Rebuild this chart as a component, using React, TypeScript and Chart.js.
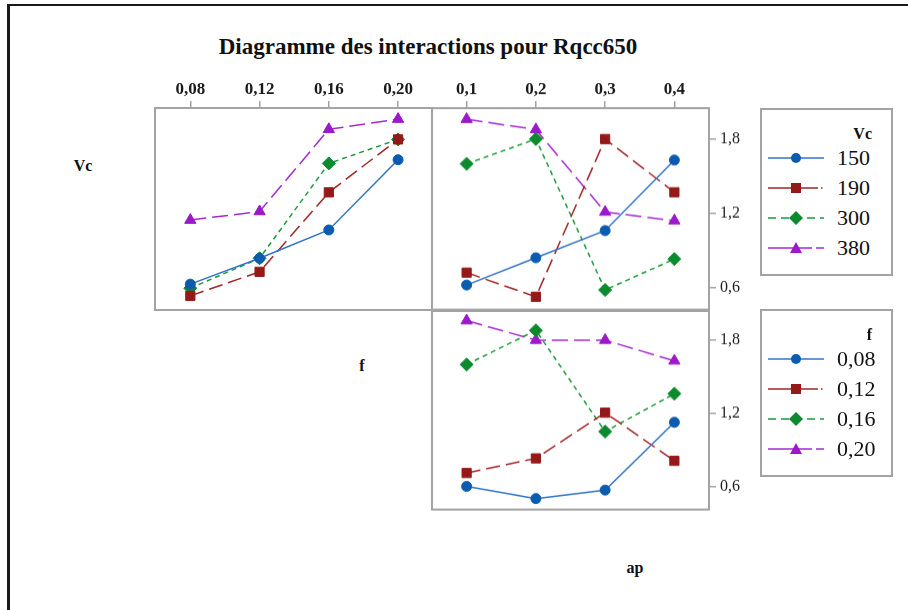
import React, { useEffect, useRef } from 'react';
import { Chart, registerables } from 'chart.js';
Chart.register(...registerables);

// ---------- data ----------
const fLevels = [0.08, 0.12, 0.16, 0.2];
const apLevels = [0.1, 0.2, 0.3, 0.4];
const vcNames = ['150', '190', '300', '380'];
const fNames = ['0,08', '0,12', '0,16', '0,20'];
const yTicks = [0.6, 1.2, 1.8];

// Vc x f (top-left)
const vc150ByF = [0.62, 0.83, 1.06, 1.63];
const vc190ByF = [0.525, 0.72, 1.365, 1.795];
const vc300ByF = [0.587, 0.83, 1.6, 1.795];
const vc380ByF = [1.14, 1.21, 1.877, 1.96];
// Vc x ap (top-right)
const vc150ByAp = [0.62, 0.84, 1.06, 1.63];
const vc190ByAp = [0.72, 0.525, 1.8, 1.37];
const vc300ByAp = [1.6, 1.8, 0.58, 0.83];
const vc380ByAp = [1.96, 1.877, 1.21, 1.14];
// f x ap (bottom-right)
const f008ByAp = [0.6, 0.5, 0.57, 1.126];
const f012ByAp = [0.71, 0.83, 1.205, 0.81];
const f016ByAp = [1.6, 1.88, 1.05, 1.36];
const f020ByAp = [1.96, 1.8, 1.8, 1.63];

// ---------- styles ----------
const SERIF = "'Liberation Serif', 'Times New Roman', serif";
const COLORS = ['#0b5cb0', '#951919', '#0c8a2e', '#9c18c8'];
const LINE_COLORS = ['#2f74c8', '#a32525', '#1a9a3a', '#a52ad0'];
const DASHES: number[][] = [[], [14, 6], [5, 4], [16, 6]];
const POINT_STYLES = ['circle', 'rect', 'rectRot', 'triangle'];
const POINT_RADII = [5, 6.5, 6.5, 6.5];
const GRAY = '#a3a3a3';

const boxPlugin = {
  id: 'panelBox',
  beforeDatasetsDraw(chart: any) {
    const { ctx, chartArea } = chart;
    ctx.save();
    ctx.strokeStyle = GRAY;
    ctx.lineWidth = 2;
    ctx.strokeRect(chartArea.left, chartArea.top, chartArea.right - chartArea.left, chartArea.bottom - chartArea.top);
    ctx.restore();
  },
};

type PanelProps = {
  areaLeft: number; areaTop: number; areaW: number; areaH: number;
  xLevels: number[]; xMin: number; xMax: number; xDigits: number;
  series: number[][]; showX: boolean; showY: boolean;
};

function Panel(p: PanelProps) {
  const ref = useRef<HTMLCanvasElement>(null);
  const W0 = p.areaW + 24 + (p.showY ? 45 : 0);
  const H0 = p.areaH + 24 + (p.showX ? 30 : 0);
  useEffect(() => {
    const canvas = ref.current;
    if (!canvas) return;
    const chart = new Chart(canvas, {
      type: 'line',
      data: {
        datasets: p.series.map((vals, i) => ({
          data: p.xLevels.map((x, j) => ({ x, y: vals[j] })),
          borderColor: LINE_COLORS[i],
          backgroundColor: COLORS[i],
          pointBorderColor: COLORS[i],
          borderDash: DASHES[i],
          borderWidth: 1.5,
          pointStyle: POINT_STYLES[i] as any,
          pointRadius: POINT_RADII[i],
          pointBorderWidth: 1,
          tension: 0,
          clip: false as any,
        })),
      },
      options: {
        animation: false,
        responsive: false,
        maintainAspectRatio: false,
        layout: { padding: { left: 12, right: p.showY ? 0 : 12, top: p.showX ? 0 : 12, bottom: 12 } },
        plugins: { legend: { display: false }, tooltip: { enabled: false } },
        scales: {
          x: {
            type: 'linear',
            position: 'top',
            display: p.showX,
            min: p.xMin,
            max: p.xMax,
            afterBuildTicks: (s: any) => { s.ticks = p.xLevels.map((v) => ({ value: v })); },
            afterFit: (s: any) => { if (p.showX) s.height = 30; },
            ticks: {
              callback: (v: any) => Number(v).toFixed(p.xDigits).replace('.', ','),
              font: { family: SERIF, size: 17, weight: 'bold' },
              color: '#1a1a1a',
              padding: 1,
              maxRotation: 0,
              autoSkip: false,
            },
            grid: { drawOnChartArea: false, drawTicks: true, tickLength: 7, color: GRAY, lineWidth: 1.5 },
            border: { display: false },
          },
          y: {
            type: 'linear',
            position: 'right',
            display: p.showY,
            min: 0.41,
            max: 2.05,
            afterBuildTicks: (s: any) => { s.ticks = yTicks.map((v) => ({ value: v })); },
            afterFit: (s: any) => { if (p.showY) s.width = 45; },
            ticks: {
              callback: (v: any) => Number(v).toFixed(1).replace('.', ','),
              font: { family: SERIF, size: 16 },
              color: '#1a1a1a',
              padding: 4,
            },
            grid: { drawOnChartArea: false, drawTicks: true, tickLength: 7, color: GRAY, lineWidth: 1.5 },
            border: { display: false },
          },
        },
      } as any,
      plugins: [boxPlugin],
    });
    // align the chart area exactly with the intended panel rectangle
    const ca = chart.chartArea;
    const dw = p.areaW - (ca.right - ca.left);
    const dh = p.areaH - (ca.bottom - ca.top);
    if (Math.abs(dw) > 0.5 || Math.abs(dh) > 0.5) {
      chart.resize(W0 + dw, H0 + dh);
    }
    const ca2 = chart.chartArea;
    canvas.style.left = `${p.areaLeft - ca2.left}px`;
    canvas.style.top = `${p.areaTop - ca2.top}px`;
    return () => chart.destroy();
  }, []);
  return (
    <canvas
      ref={ref}
      width={W0}
      height={H0}
      style={{ position: 'absolute', left: p.areaLeft - 12, top: p.areaTop - 30, width: W0, height: H0 }}
    />
  );
}

function LegendMarker({ i }: { i: number }) {
  const c = COLORS[i];
  const cx = 28, cy = 8;
  if (i === 0) return <circle cx={cx} cy={cy} r={5} fill={c} />;
  if (i === 1) return <rect x={cx - 5} y={cy - 5} width={10} height={10} fill={c} />;
  if (i === 2) return <polygon points={`${cx},${cy - 7} ${cx + 7},${cy} ${cx},${cy + 7} ${cx - 7},${cy}`} fill={c} />;
  return <polygon points={`${cx},${cy - 6} ${cx + 6},${cy + 5} ${cx - 6},${cy + 5}`} fill={c} />;
}

const LEGEND_DASH = ['', '50 3 1.5 3', '8 5', '44 4 8 4'];

function Legend({ top, title, names }: { top: number; title: string; names: string[] }) {
  return (
    <div style={{ position: 'absolute', left: 760, top, width: 129, height: 164, border: `2px solid ${GRAY}` }}>
      <div style={{ position: 'absolute', right: 19, top: 15, font: `bold 16px ${SERIF}`, color: '#111' }}>{title}</div>
      {names.map((n, i) => (
        <div key={n} style={{ position: 'absolute', left: 0, top: 40 + i * 30, width: 129, height: 16 }}>
          <svg width={60} height={16} style={{ position: 'absolute', left: 6, top: 0 }}>
            <line x1={0} y1={8} x2={56} y2={8} stroke={LINE_COLORS[i]} strokeWidth={1.5} strokeDasharray={LEGEND_DASH[i] || undefined} />
            <LegendMarker i={i} />
          </svg>
          <div style={{ position: 'absolute', left: 75, top: -5, font: `22px ${SERIF}`, color: '#111', lineHeight: '26px' }}>{n}</div>
        </div>
      ))}
    </div>
  );
}

export default function App() {
  const label = (text: string, x: number, y: number) => (
    <div style={{ position: 'absolute', left: x, top: y, transform: 'translate(-50%, -50%)', font: `bold 16px ${SERIF}`, color: '#111', whiteSpace: 'nowrap' }}>{text}</div>
  );
  return (
    <div style={{ position: 'absolute', left: 0, top: 0, width: 908, height: 610, background: '#fff', overflow: 'hidden' }}>
      <div style={{ position: 'absolute', left: 7, top: 4, width: 920, height: 620, borderLeft: '3px solid #1a1a1a', borderTop: '2px solid #1a1a1a' }} />
      <div style={{ position: 'absolute', left: 428, top: 47, transform: 'translate(-50%, -50%)', font: `bold 23px ${SERIF}`, color: '#111', whiteSpace: 'nowrap' }}>
        Diagramme des interactions pour Rqcc650
      </div>
      {label('Vc', 83, 166)}
      {label('f', 362, 366)}
      {label('ap', 635, 568)}
      <Panel areaLeft={155} areaTop={108} areaW={277} areaH={202}
        xLevels={fLevels} xMin={0.0596} xMax={0.2196} xDigits={2}
        series={[vc150ByF, vc190ByF, vc300ByF, vc380ByF]} showX={true} showY={false} />
      <Panel areaLeft={432} areaTop={108} areaW={277} areaH={202}
        xLevels={apLevels} xMin={0.05} xMax={0.45} xDigits={1}
        series={[vc150ByAp, vc190ByAp, vc300ByAp, vc380ByAp]} showX={true} showY={true} />
      <Panel areaLeft={432} areaTop={310} areaW={277} areaH={199}
        xLevels={apLevels} xMin={0.05} xMax={0.45} xDigits={1}
        series={[f008ByAp, f012ByAp, f016ByAp, f020ByAp]} showX={false} showY={true} />
      <Legend top={108} title="Vc" names={vcNames} />
      <Legend top={309} title="f" names={fNames} />
    </div>
  );
}
